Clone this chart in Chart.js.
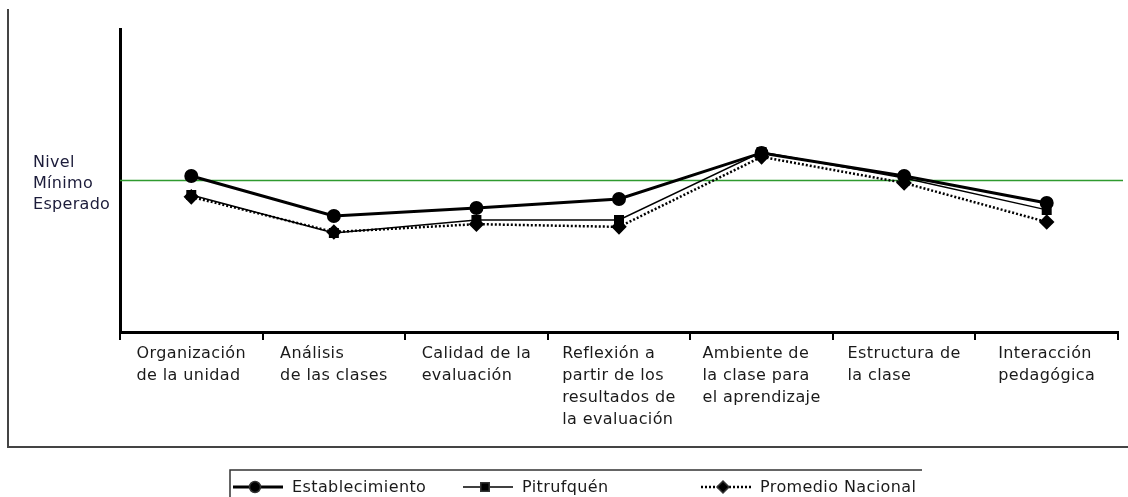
<!DOCTYPE html>
<html>
<head>
<meta charset="utf-8">
<script src="https://cdn.jsdelivr.net/npm/chart.js@4.4.1/dist/chart.umd.min.js"></script>
<style>
  html, body { margin: 0; padding: 0; background: #fff; }
  #wrap { width: 1128px; height: 497px; }
</style>
</head>
<body>
<div id="wrap"><canvas id="c"></canvas></div>
<script>
// categories (x axis)
var categorias = [
  ['Organización', 'de la unidad'],
  ['Análisis', 'de las clases'],
  ['Calidad de la', 'evaluación'],
  ['Reflexión a', 'partir de los', 'resultados de', 'la evaluación'],
  ['Ambiente de', 'la clase para', 'el aprendizaje'],
  ['Estructura de', 'la clase'],
  ['Interacción', 'pedagógica']
];
// values (relative scale 0-100, minimum expected = 50)
var establecimiento = [51.5, 38.3, 40.9, 43.9, 59.1, 51.5, 42.6];
var pitrufquen      = [45.2, 32.7, 37.0, 37.0, 59.4, 50.8, 40.3];
var promedio        = [44.6, 33.0, 35.6, 34.7, 57.8, 49.2, 36.3];
var nivelMinimo = 50;
var nivelLabel = ['Nivel', 'Mínimo', 'Esperado'];

var FONT = '16px "DejaVu Sans", sans-serif';

// outer frame, green reference line, custom labels and legend
var extras = {
  id: 'extras',
  beforeDraw: function(chart) {
    var ctx = chart.ctx;
    ctx.save();
    ctx.strokeStyle = '#444';
    ctx.lineWidth = 2;
    ctx.beginPath();
    ctx.moveTo(8, 9);
    ctx.lineTo(8, 447);
    ctx.lineTo(1128, 447);
    ctx.stroke();
    ctx.restore();
  },
  beforeDatasetsDraw: function(chart) {
    var ctx = chart.ctx, y = chart.scales.y, a = chart.chartArea;
    var py = y.getPixelForValue(nivelMinimo);
    ctx.save();
    ctx.strokeStyle = '#2f9a2f';
    ctx.lineWidth = 1.5;
    ctx.beginPath();
    ctx.moveTo(a.left, py);
    ctx.lineTo(a.right + 5, py);
    ctx.stroke();
    ctx.fillStyle = '#1c1c3a';
    ctx.font = FONT;
    ctx.letterSpacing = '0.3px';
    ctx.textBaseline = 'middle';
    ctx.textAlign = 'left';
    nivelLabel.forEach(function(t, i) {
      ctx.fillText(t, 33, py + 3 + (i - 1) * 21);
    });
    ctx.restore();
  },
  afterDraw: function(chart) {
    var ctx = chart.ctx, x = chart.scales.x;
    ctx.save();
    ctx.font = FONT;
    ctx.letterSpacing = '0.4px';
    ctx.fillStyle = '#1a1a1a';
    ctx.textBaseline = 'middle';
    ctx.textAlign = 'left';
    categorias.forEach(function(lines, i) {
      var cx = x.getPixelForValue(i);
      var w = 0;
      lines.forEach(function(t) { w = Math.max(w, ctx.measureText(t).width); });
      lines.forEach(function(t, j) {
        ctx.fillText(t, cx - w / 2, x.top + 22 + j * 22);
      });
    });

    // legend box
    ctx.strokeStyle = '#333';
    ctx.lineWidth = 1.5;
    ctx.beginPath();
    ctx.moveTo(230, 497);
    ctx.lineTo(230, 470);
    ctx.lineTo(922, 470);
    ctx.stroke();
    var starts = [233, 463, 701];
    var ly = 487;
    chart.data.datasets.forEach(function(ds, i) {
      var sx = starts[i];
      ctx.save();
      ctx.strokeStyle = ds.borderColor;
      ctx.lineWidth = ds.borderWidth;
      ctx.setLineDash(ds.borderDash || []);
      ctx.beginPath();
      ctx.moveTo(sx, ly);
      ctx.lineTo(sx + 50, ly);
      ctx.stroke();
      ctx.restore();
      ctx.fillStyle = '#000';
      Chart.helpers.drawPoint(ctx, {
        pointStyle: ds.pointStyle, radius: ds.pointRadius, borderWidth: 1
      }, sx + 22, ly);
      ctx.fillStyle = '#1a1a1a';
      ctx.fillText(ds.label, sx + 59, ly + 1);
    });
    ctx.restore();
  }
};

new Chart(document.getElementById('c'), {
  type: 'line',
  data: {
    labels: categorias,
    datasets: [
      {
        label: 'Establecimiento', data: establecimiento,
        borderColor: '#000', backgroundColor: '#000', borderWidth: 3,
        pointStyle: 'circle', pointRadius: 5.5, tension: 0
      },
      {
        label: 'Pitrufquén', data: pitrufquen,
        borderColor: '#000', backgroundColor: '#000', borderWidth: 1.5,
        pointStyle: 'rect', pointRadius: 6, tension: 0
      },
      {
        label: 'Promedio Nacional', data: promedio,
        borderColor: '#000', backgroundColor: '#000', borderWidth: 2.5,
        borderDash: [2, 2],
        pointStyle: 'rectRot', pointRadius: 6, tension: 0
      }
    ]
  },
  options: {
    responsive: true,
    maintainAspectRatio: false,
    animation: false,
    layout: { padding: { left: 120, right: 10, top: 29, bottom: 65 } },
    plugins: { legend: { display: false }, tooltip: { enabled: false } },
    scales: {
      x: {
        offset: true,
        grid: { offset: true, drawOnChartArea: false, color: '#000', lineWidth: 2, tickLength: 8 },
        border: { color: '#000', width: 3 },
        ticks: { display: false },
        afterFit: function(s) { s.height = 100; }
      },
      y: {
        min: 0, max: 100,
        grid: { display: false },
        border: { color: '#000', width: 3 },
        ticks: { display: false },
        afterFit: function(s) { s.width = 0; }
      }
    }
  },
  plugins: [extras]
});
</script>
</body>
</html>
